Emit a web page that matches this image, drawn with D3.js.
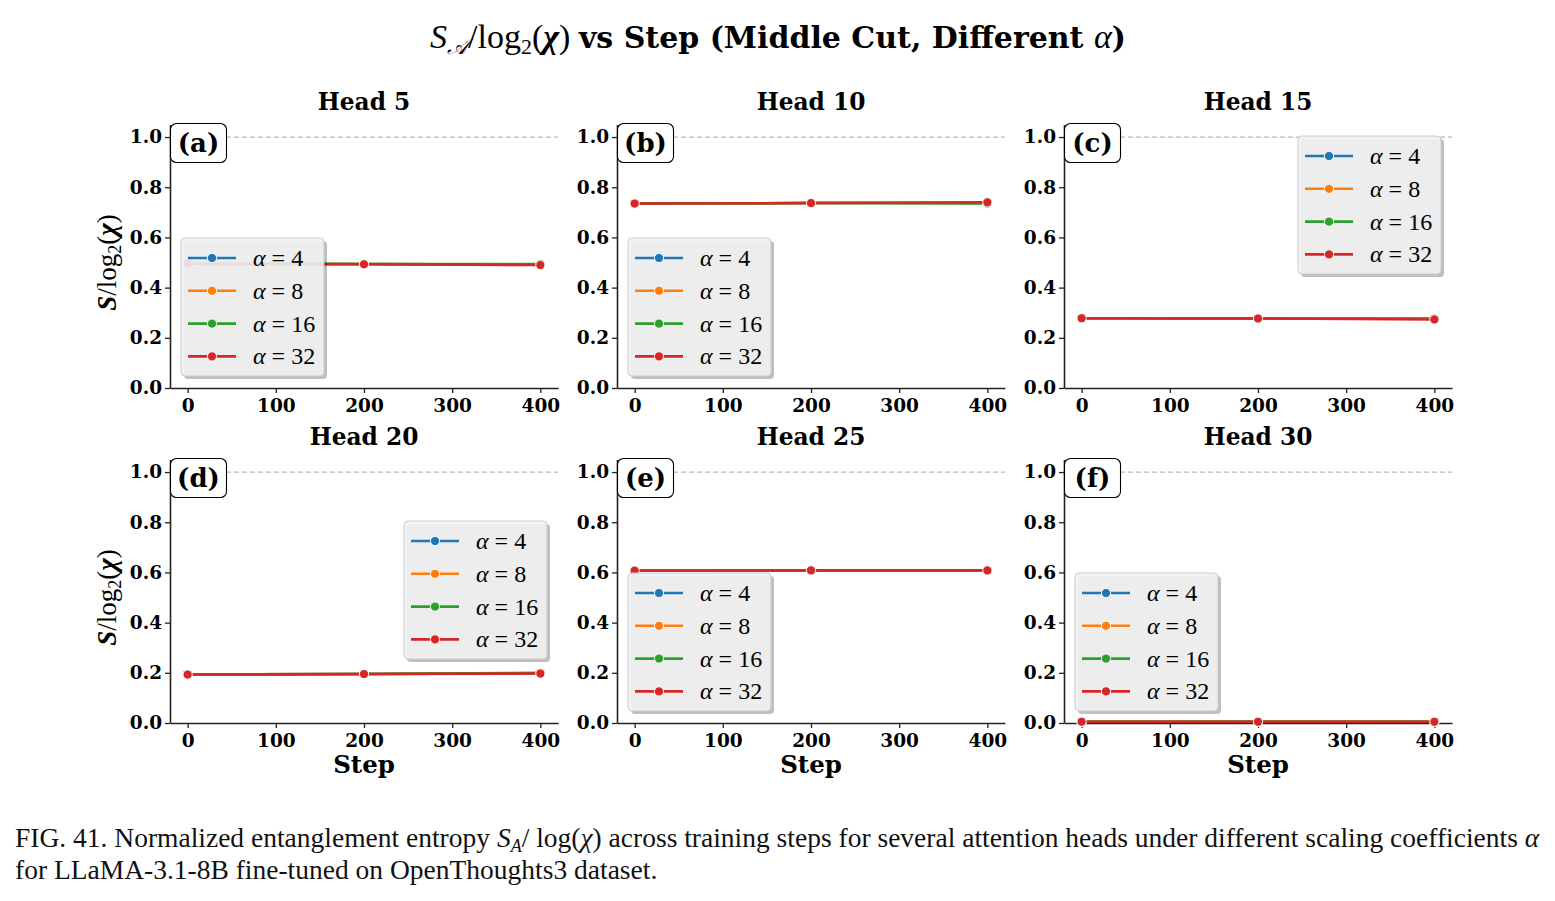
<!DOCTYPE html>
<html><head><meta charset="utf-8">
<script src="https://cdn.jsdelivr.net/npm/d3@7"></script>
<style>body{margin:0;background:#fff}</style>
</head><body>
<svg id="chart" width="1555" height="901"></svg>
<script>
const steps = [0, 200, 400];
const heads = ["Head 5","Head 10","Head 15","Head 20","Head 25","Head 30"];
const panelLabels = ["(a)","(b)","(c)","(d)","(e)","(f)"];
const alphas = [4, 8, 16, 32];
const seriesColors = ["#1f77b4","#ff7f0e","#2ca02c","#d62728"];
// values per panel, per alpha series, per step
const head5  = [[0.495,0.494,0.492],[0.495,0.494,0.492],[0.495,0.494,0.494],[0.495,0.493,0.490]];
const head10 = [[0.735,0.737,0.737],[0.735,0.737,0.737],[0.735,0.737,0.735],[0.735,0.737,0.740]];
const head15 = [[0.278,0.277,0.276],[0.278,0.277,0.276],[0.278,0.277,0.277],[0.278,0.277,0.273]];
const head20 = [[0.193,0.195,0.198],[0.193,0.195,0.198],[0.193,0.195,0.200],[0.193,0.195,0.197]];
const head25 = [[0.607,0.608,0.608],[0.607,0.608,0.608],[0.607,0.608,0.608],[0.607,0.608,0.608]];
const head30 = [[0.005,0.005,0.005],[0.005,0.005,0.005],[0.005,0.005,0.005],[0.005,0.005,0.005]];
const panelData = [head5, head10, head15, head20, head25, head30];
const xTicks = [0,100,200,300,400];
const yTicks = [0.0,0.2,0.4,0.6,0.8,1.0];

// layout
const colLeft = [170, 617, 1064];
const rowTop = [124.5, 459.5];
const W = 388, H = 263.5;
const legendPos = [[181,238],[628,238],[1298,136],[404,521],[628,573],[1075,573]];

const svg = d3.select("#chart");
const serif = "'DejaVu Serif', serif";
const mathFont = "'Liberation Serif', 'Times New Roman', serif";

// main title
const t = svg.append("text").attr("x", 778).attr("y", 48).attr("text-anchor","middle")
  .attr("font-family", mathFont).attr("font-size", 34);
t.append("tspan").attr("font-style","italic").text("S");
t.append("tspan").attr("font-style","italic").attr("font-size",22).attr("dy",6).text("𝒜");
t.append("tspan").attr("dy",-6).text("/log");
t.append("tspan").attr("font-size",22).attr("dy",6).text("2");
t.append("tspan").attr("dy",-6).text("(");
t.append("tspan").attr("font-style","italic").attr("font-weight","bold").text("χ");
t.append("tspan").text(") ");
t.append("tspan").attr("font-family", serif).attr("font-weight","bold").attr("font-size",30).text("vs Step (Middle Cut, Different ");
t.append("tspan").attr("font-style","italic").text("α");
t.append("tspan").attr("font-family", serif).attr("font-weight","bold").attr("font-size",30).text(")");

const x = d3.scaleLinear().domain([-20, 420]).range([0, W]);
const y = d3.scaleLinear().domain([0, 1.05]).range([H, 0]);

panelData.forEach((data, i) => {
  const col = i % 3, row = Math.floor(i / 3);
  const g = svg.append("g").attr("transform", `translate(${colLeft[col]},${rowTop[row]})`);

  // dashed reference line at 1.0
  g.append("line").attr("x1", 0).attr("x2", W).attr("y1", y(1)).attr("y2", y(1))
    .attr("stroke","#bbbbbb").attr("stroke-width",1.2).attr("stroke-dasharray","5,3");

  // axes
  const xa = g.append("g").attr("transform", `translate(0,${H})`)
    .call(d3.axisBottom(x).tickValues(xTicks).tickSize(5).tickPadding(3).tickSizeOuter(0));
  const ya = g.append("g")
    .call(d3.axisLeft(y).tickValues(yTicks).tickFormat(d3.format(".1f")).tickSize(5).tickPadding(3).tickSizeOuter(0));
  [xa, ya].forEach(a => {
    a.select(".domain").attr("stroke","#222").attr("stroke-width",1.6);
    a.selectAll(".tick line").attr("stroke","#222").attr("stroke-width",1.3);
    a.selectAll(".tick text").attr("font-family", serif).attr("font-weight","bold")
      .attr("font-size",18.5).attr("fill","#000");
  });
  xa.selectAll(".tick text").attr("dy","0.85em");

  // series lines
  const line = d3.line().x((d,j) => x(steps[j])).y(d => y(d));
  data.forEach((vals, s) => {
    g.append("path").datum(vals).attr("d", line).attr("fill","none")
      .attr("stroke", seriesColors[s]).attr("stroke-width", 2.6);
    g.selectAll(null).data(vals).enter().append("circle")
      .attr("cx",(d,j)=>x(steps[j])).attr("cy", d=>y(d)).attr("r",4.6)
      .attr("fill", seriesColors[s]).attr("stroke","#fff").attr("stroke-width",0.9);
  });

  // subplot title
  svg.append("text").attr("x", colLeft[col] + x(200)).attr("y", rowTop[row] - 15)
    .attr("text-anchor","middle").attr("font-family", serif).attr("font-weight","bold")
    .attr("font-size",23.3).text(heads[i]);

  // panel label box
  g.append("rect").attr("x",0.5).attr("y",-1).attr("width",56).attr("height",39).attr("rx",6)
    .attr("fill","#fff").attr("stroke","#000").attr("stroke-width",1.1);
  g.append("text").attr("x",28.5).attr("y",27).attr("text-anchor","middle")
    .attr("font-family", serif).attr("font-weight","bold").attr("font-size",26).text(panelLabels[i]);

  // legend
  const [lx, ly] = legendPos[i];
  const lg = svg.append("g").attr("transform", `translate(${lx},${ly})`);
  lg.append("rect").attr("x",3).attr("y",3).attr("width",143).attr("height",138).attr("rx",4)
    .attr("fill","#000").attr("opacity",0.25);
  lg.append("rect").attr("x",0).attr("y",0).attr("width",143).attr("height",138).attr("rx",4)
    .attr("fill","#f2f2f2").attr("fill-opacity",0.9).attr("stroke","#cccccc").attr("stroke-width",1);
  alphas.forEach((a, s) => {
    const cy = 20 + s * 32.8;
    lg.append("line").attr("x1",7).attr("x2",55).attr("y1",cy).attr("y2",cy)
      .attr("stroke", seriesColors[s]).attr("stroke-width",2.6);
    lg.append("circle").attr("cx",31).attr("cy",cy).attr("r",4.6)
      .attr("fill", seriesColors[s]).attr("stroke","#fff").attr("stroke-width",0.9);
    const tx = lg.append("text").attr("x",72).attr("y",cy+8).attr("font-family", mathFont).attr("font-size",24);
    tx.append("tspan").attr("font-style","italic").text("α");
    tx.append("tspan").text(" = " + a);
  });

  // y label on first column
  if (col === 0) {
    const yl = svg.append("text")
      .attr("transform", `translate(${colLeft[col]-54},${rowTop[row] + y(0.5)}) rotate(-90)`)
      .attr("text-anchor","middle").attr("font-family", mathFont).attr("font-size",27);
    yl.append("tspan").attr("font-style","italic").attr("font-weight","bold").text("S");
    yl.append("tspan").text("/log");
    yl.append("tspan").attr("font-size",18).attr("dy",5).text("2");
    yl.append("tspan").attr("dy",-5).text("(");
    yl.append("tspan").attr("font-style","italic").attr("font-weight","bold").text("χ");
    yl.append("tspan").text(")");
  }
  // x label on bottom row
  if (row === 1) {
    svg.append("text").attr("x", colLeft[col] + x(200)).attr("y", rowTop[row] + H + 50)
      .attr("text-anchor","middle").attr("font-family", serif).attr("font-weight","bold")
      .attr("font-size",24.5).text("Step");
  }
});

// caption
const cap = svg.append("g").attr("font-family", mathFont).attr("font-size",27.5).attr("fill","#111");
const c1 = cap.append("text").attr("x",15).attr("y",847);
c1.append("tspan").text("FIG. 41. Normalized entanglement entropy ");
c1.append("tspan").attr("font-style","italic").text("S");
c1.append("tspan").attr("font-style","italic").attr("font-size",18).attr("dy",5).text("A");
c1.append("tspan").attr("dy",-5).text("/ log(");
c1.append("tspan").attr("font-style","italic").text("χ");
c1.append("tspan").text(") across training steps for several attention heads under different scaling coefficients ");
c1.append("tspan").attr("font-style","italic").text("α");
cap.append("text").attr("x",15).attr("y",879).text("for LLaMA-3.1-8B fine-tuned on OpenThoughts3 dataset.");
</script>
</body></html>
